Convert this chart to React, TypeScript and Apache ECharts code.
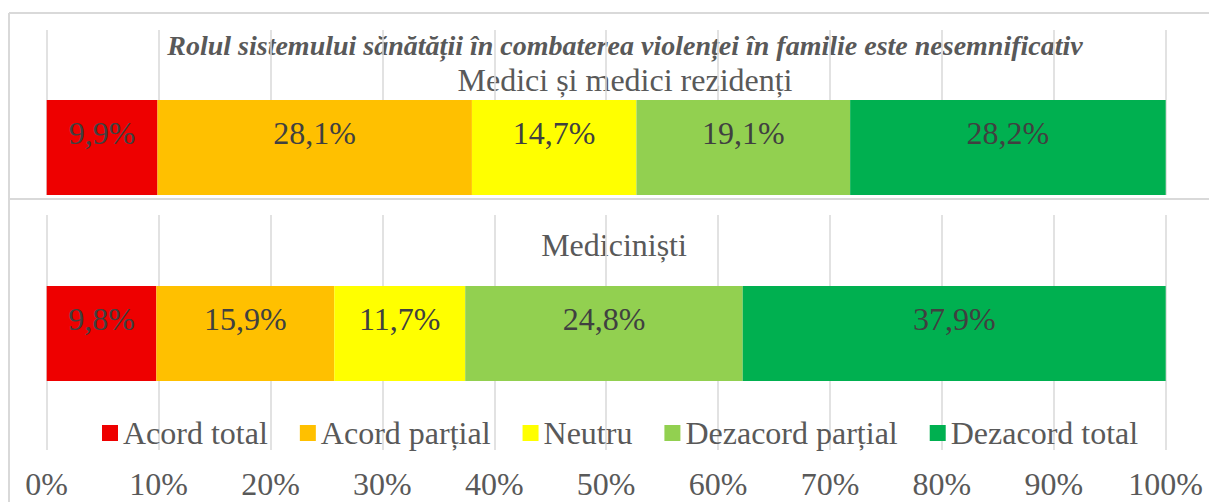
import React, { useEffect, useRef } from "react";
import * as echarts from "echarts";

const titleText = "Rolul sistemului sănătății în combaterea violenței în familie este nesemnificativ";
const groupTop = "Medici și medici rezidenți";
const groupBottom = "Mediciniști";
const seriesNames = ["Acord total", "Acord parțial", "Neutru", "Dezacord parțial", "Dezacord total"];
const seriesColors = ["#EE0000", "#FFC000", "#FFFF00", "#92D050", "#00B050"];
const valuesTop = [9.9, 28.1, 14.7, 19.1, 28.2];
const valuesBottom = [9.8, 15.9, 11.7, 24.8, 37.9];
const tickValues = [0, 10, 20, 30, 40, 50, 60, 70, 80, 90, 100];

const FONT = "Liberation Serif";
const GRID_LEFT = 46.7;
const GRID_WIDTH = 1119;
const LINE = "#d9d9d9";

export default function App() {
  const ref = useRef<HTMLDivElement>(null);
  useEffect(() => {
    if (!ref.current) return;
    const chart = echarts.init(ref.current, null, { renderer: "svg" });
    const grids = [
      { left: GRID_LEFT, width: GRID_WIDTH, top: 30, height: 165 },
      { left: GRID_LEFT, width: GRID_WIDTH, top: 100, height: 95 },
      { left: GRID_LEFT, width: GRID_WIDTH, top: 215, height: 235 },
      { left: GRID_LEFT, width: GRID_WIDTH, top: 286, height: 95 },
    ];
    const xAxes = grids.map((_, i) => ({
      type: "value",
      gridIndex: i,
      min: 0,
      max: 100,
      interval: 10,
      axisLine: { show: false },
      axisTick: { show: false },
      splitLine: { show: i === 0 || i === 2, lineStyle: { color: LINE, width: 1.5 } },
      axisLabel: {
        show: i === 2,
        margin: 18,
        lineHeight: 32,
        fontFamily: FONT,
        fontSize: 32,
        color: "#595959",
        formatter: (v: number) => (tickValues.includes(v) ? `${v}%` : ""),
      },
    }));
    const yAxes = grids.map((_, i) => ({
      type: "category",
      gridIndex: i,
      data: [i === 1 ? groupTop : i === 3 ? groupBottom : ""],
      show: false,
    }));
    const fmt = (p: any) => `${String(p.value.toFixed(1)).replace(".", ",")}%`;
    const barSeries: any[] = [];
    seriesNames.forEach((name, k) => {
      [
        { idx: 1, vals: valuesTop },
        { idx: 3, vals: valuesBottom },
      ].forEach(({ idx, vals }) => {
        barSeries.push({
          name,
          type: "bar",
          stack: "s" + idx,
          xAxisIndex: idx,
          yAxisIndex: idx,
          barWidth: "100%",
          data: [vals[k]],
          itemStyle: { color: seriesColors[k] },
          label: {
            show: true,
            position: "inside",
            offset: [0, -15],
            formatter: fmt,
            fontFamily: FONT,
            fontSize: 32,
            color: "#404040",
          },
        });
      });
    });
    chart.setOption({
      animation: false,
      backgroundColor: "#ffffff",
      grid: grids,
      xAxis: xAxes,
      yAxis: yAxes,
      legend: {
        data: seriesNames,
        left: 102,
        top: 417,
        padding: 0,
        itemWidth: 16,
        itemHeight: 16,
        itemGap: 32,
        icon: "rect",
        textStyle: { fontFamily: FONT, fontSize: 32, color: "#595959", padding: [0, 0, 0, 0] },
      },
      series: barSeries,
      graphic: [
        { type: "line", shape: { x1: 9, y1: 13, x2: 1209, y2: 13 }, style: { stroke: LINE, lineWidth: 2 } },
        { type: "line", shape: { x1: 9, y1: 13, x2: 9, y2: 502 }, style: { stroke: LINE, lineWidth: 2 } },
        { type: "line", shape: { x1: 9, y1: 199, x2: 1209, y2: 199 }, style: { stroke: LINE, lineWidth: 2 } },
        {
          type: "text",
          x: 625,
          y: 45,
          style: {
            text: titleText,
            fontFamily: FONT,
            fontSize: 28,
            fontWeight: "bold",
            fontStyle: "italic",
            fill: "#595959",
            align: "center",
            verticalAlign: "middle",
          },
        },
        {
          type: "text",
          x: 625,
          y: 80,
          style: {
            text: groupTop,
            fontFamily: FONT,
            fontSize: 32,
            fill: "#595959",
            align: "center",
            verticalAlign: "middle",
          },
        },
        {
          type: "text",
          x: 614,
          y: 245,
          style: {
            text: groupBottom,
            fontFamily: FONT,
            fontSize: 32,
            fill: "#595959",
            align: "center",
            verticalAlign: "middle",
          },
        },
      ],
    });
    return () => chart.dispose();
  }, []);
  return (
    <div
      ref={ref}
      style={{ position: "absolute", left: 0, top: 0, width: 1209, height: 502 }}
    />
  );
}
